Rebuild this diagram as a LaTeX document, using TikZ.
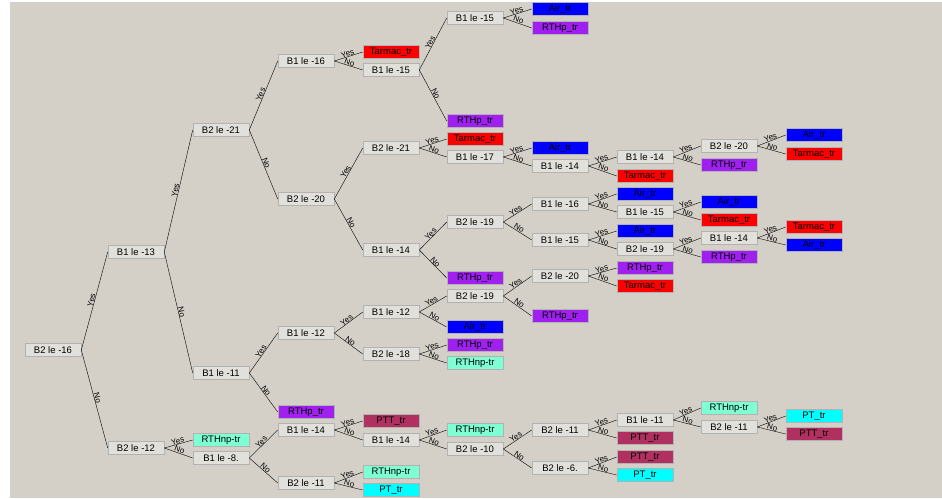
\documentclass[tikz,border=0pt]{standalone}
\usepackage{fontspec}
\setmainfont{Liberation Sans}
\definecolor{bgc}{RGB}{212,208,200}
\definecolor{testc}{RGB}{226,224,218}
\definecolor{airc}{RGB}{0,0,255}
\definecolor{tarmacc}{RGB}{255,0,0}
\definecolor{rthpc}{RGB}{160,32,240}
\definecolor{rthnpc}{RGB}{127,255,212}
\definecolor{ptc}{RGB}{0,255,255}
\definecolor{pttc}{RGB}{176,48,96}
\begin{document}
\begin{tikzpicture}[x=1pt,y=-1pt, % the decision tree
    box/.style={draw=gray!60,line width=0.6pt,minimum width=56pt,minimum height=13.5pt,inner sep=0pt,font=\fontsize{9.5}{11}\selectfont},
    test/.style={box,fill=testc},
    air/.style={box,fill=airc},
    tarmac/.style={box,fill=tarmacc},
    rthp/.style={box,fill=rthpc},
    rthnp/.style={box,fill=rthnpc},
    pt/.style={box,fill=ptc},
    ptt/.style={box,fill=pttc},
    lbl/.style={sloped,above,inner sep=0.2pt,font=\fontsize{8}{9}\selectfont}]
    \useasboundingbox (0,0) rectangle (942,498);
    \fill [white] (0,0) rectangle (942,498);
    \fill [bgc] (10,2) rectangle (942,498);
    % level 0 - 2
    \node [test] (r) at (53,350) {B2 le -16};
    \node [test] (a) at (136,252) {B1 le -13};
    \node [test] (b) at (136,448) {B2 le -12};
    \node [test] (aa) at (221,130) {B2 le -21};
    \node [test] (ab) at (221,373) {B1 le -11};
    \node [rthnp] (ba) at (221,440) {RTHnp-tr};
    \node [test] (bb) at (221,458) {B1 le -8.};
    % level 3
    \node [test] (aaa) at (306,61) {B1 le -16};
    \node [test] (aab) at (306,199) {B2 le -20};
    \node [test] (aba) at (306,333) {B1 le -12};
    \node [rthp] (abb) at (306,412) {RTHp\_tr};
    \node [test] (bba) at (306,430) {B1 le -14};
    \node [test] (bbb) at (306,483) {B2 le -11};
    % level 4
    \node [tarmac] (aaaa) at (391,52) {Tarmac\_tr};
    \node [test] (aaab) at (391,70) {B1 le -15};
    \node [test] (aaba) at (391,148) {B2 le -21};
    \node [test] (aabb) at (391,250) {B1 le -14};
    \node [test] (abaa) at (391,312) {B1 le -12};
    \node [test] (abab) at (391,354) {B2 le -18};
    \node [ptt] (bbaa) at (391,421) {PTT\_tr};
    \node [test] (bbab) at (391,440) {B1 le -14};
    \node [rthnp] (bbba) at (391,472) {RTHnp-tr};
    \node [pt] (bbbb) at (391,490) {PT\_tr};
    % level 5
    \node [test] (aaaba) at (475,18) {B1 le -15};
    \node [rthp] (aaabb) at (475,121) {RTHp\_tr};
    \node [tarmac] (aabaa) at (475,139) {Tarmac\_tr};
    \node [test] (aabab) at (475,157) {B1 le -17};
    \node [test] (aabba) at (475,222) {B2 le -19};
    \node [rthp] (aabbb) at (475,278) {RTHp\_tr};
    \node [test] (abaaa) at (475,296) {B2 le -19};
    \node [air] (abaab) at (475,327) {Air\_tr};
    \node [rthp] (ababa) at (475,345) {RTHp\_tr};
    \node [rthnp] (ababb) at (475,363) {RTHnp-tr};
    \node [rthnp] (bbaba) at (475,430) {RTHnp-tr};
    \node [test] (bbabb) at (475,449) {B2 le -10};
    % level 6
    \node [air] (aaabaa) at (560,9) {Air\_tr};
    \node [rthp] (aaabab) at (560,28) {RTHp\_tr};
    \node [air] (aababa) at (560,148) {Air\_tr};
    \node [test] (aababb) at (560,166) {B1 le -14};
    \node [test] (aabbaa) at (560,204) {B1 le -16};
    \node [test] (aabbab) at (560,240) {B1 le -15};
    \node [test] (abaaaa) at (560,276) {B2 le -20};
    \node [rthp] (abaaab) at (560,316) {RTHp\_tr};
    \node [test] (bbabba) at (560,430) {B2 le -11};
    \node [test] (bbabbb) at (560,468) {B2 le -6.};
    % level 7
    \node [test] (aababba) at (645,157) {B1 le -14};
    \node [tarmac] (aababbb) at (645,176) {Tarmac\_tr};
    \node [air] (aabbaaa) at (645,194) {Air\_tr};
    \node [test] (aabbaab) at (645,212) {B1 le -15};
    \node [air] (aabbaba) at (645,231) {Air\_tr};
    \node [test] (aabbabb) at (645,249) {B2 le -19};
    \node [rthp] (abaaaaa) at (645,268) {RTHp\_tr};
    \node [tarmac] (abaaaab) at (645,286) {Tarmac\_tr};
    \node [test] (bbabbaa) at (645,420) {B1 le -11};
    \node [ptt] (bbabbab) at (645,438) {PTT\_tr};
    \node [ptt] (bbabbba) at (645,457) {PTT\_tr};
    \node [pt] (bbabbbb) at (645,475) {PT\_tr};
    % level 8
    \node [test] (aababbaa) at (729,146) {B2 le -20};
    \node [rthp] (aababbab) at (729,165) {RTHp\_tr};
    \node [air] (aabbaaba) at (729,202) {Air\_tr};
    \node [tarmac] (aabbaabb) at (729,220) {Tarmac\_tr};
    \node [test] (aabbabba) at (729,238) {B1 le -14};
    \node [rthp] (aabbabbb) at (729,257) {RTHp\_tr};
    \node [rthnp] (bbabbaaa) at (729,408) {RTHnp-tr};
    \node [test] (bbabbaab) at (729,427) {B2 le -11};
    % level 9
    \node [air] (aababbaaa) at (814,135) {Air\_tr};
    \node [tarmac] (aababbaab) at (814,154) {Tarmac\_tr};
    \node [tarmac] (aabbabbaa) at (814,227) {Tarmac\_tr};
    \node [air] (aabbabbab) at (814,245) {Air\_tr};
    \node [pt] (bbabbaaba) at (814,416) {PT\_tr};
    \node [ptt] (bbabbaabb) at (814,434) {PTT\_tr};
    % branches
    \draw (r.east) -- node [lbl] {Yes} (a.west);
    \draw (r.east) -- node [lbl] {No} (b.west);
    \draw (a.east) -- node [lbl] {Yes} (aa.west);
    \draw (a.east) -- node [lbl] {No} (ab.west);
    \draw (b.east) -- node [lbl] {Yes} (ba.west);
    \draw (b.east) -- node [lbl] {No} (bb.west);
    \draw (aa.east) -- node [lbl] {Yes} (aaa.west);
    \draw (aa.east) -- node [lbl] {No} (aab.west);
    \draw (ab.east) -- node [lbl] {Yes} (aba.west);
    \draw (ab.east) -- node [lbl] {No} (abb.west);
    \draw (bb.east) -- node [lbl] {Yes} (bba.west);
    \draw (bb.east) -- node [lbl] {No} (bbb.west);
    \draw (aaa.east) -- node [lbl] {Yes} (aaaa.west);
    \draw (aaa.east) -- node [lbl] {No} (aaab.west);
    \draw (aab.east) -- node [lbl] {Yes} (aaba.west);
    \draw (aab.east) -- node [lbl] {No} (aabb.west);
    \draw (aba.east) -- node [lbl] {Yes} (abaa.west);
    \draw (aba.east) -- node [lbl] {No} (abab.west);
    \draw (bba.east) -- node [lbl] {Yes} (bbaa.west);
    \draw (bba.east) -- node [lbl] {No} (bbab.west);
    \draw (bbb.east) -- node [lbl] {Yes} (bbba.west);
    \draw (bbb.east) -- node [lbl] {No} (bbbb.west);
    \draw (aaab.east) -- node [lbl] {Yes} (aaaba.west);
    \draw (aaab.east) -- node [lbl] {No} (aaabb.west);
    \draw (aaba.east) -- node [lbl] {Yes} (aabaa.west);
    \draw (aaba.east) -- node [lbl] {No} (aabab.west);
    \draw (aabb.east) -- node [lbl] {Yes} (aabba.west);
    \draw (aabb.east) -- node [lbl] {No} (aabbb.west);
    \draw (abaa.east) -- node [lbl] {Yes} (abaaa.west);
    \draw (abaa.east) -- node [lbl] {No} (abaab.west);
    \draw (abab.east) -- node [lbl] {Yes} (ababa.west);
    \draw (abab.east) -- node [lbl] {No} (ababb.west);
    \draw (bbab.east) -- node [lbl] {Yes} (bbaba.west);
    \draw (bbab.east) -- node [lbl] {No} (bbabb.west);
    \draw (aaaba.east) -- node [lbl] {Yes} (aaabaa.west);
    \draw (aaaba.east) -- node [lbl] {No} (aaabab.west);
    \draw (aabab.east) -- node [lbl] {Yes} (aababa.west);
    \draw (aabab.east) -- node [lbl] {No} (aababb.west);
    \draw (aabba.east) -- node [lbl] {Yes} (aabbaa.west);
    \draw (aabba.east) -- node [lbl] {No} (aabbab.west);
    \draw (abaaa.east) -- node [lbl] {Yes} (abaaaa.west);
    \draw (abaaa.east) -- node [lbl] {No} (abaaab.west);
    \draw (bbabb.east) -- node [lbl] {Yes} (bbabba.west);
    \draw (bbabb.east) -- node [lbl] {No} (bbabbb.west);
    \draw (aababb.east) -- node [lbl] {Yes} (aababba.west);
    \draw (aababb.east) -- node [lbl] {No} (aababbb.west);
    \draw (aabbaa.east) -- node [lbl] {Yes} (aabbaaa.west);
    \draw (aabbaa.east) -- node [lbl] {No} (aabbaab.west);
    \draw (aabbab.east) -- node [lbl] {Yes} (aabbaba.west);
    \draw (aabbab.east) -- node [lbl] {No} (aabbabb.west);
    \draw (abaaaa.east) -- node [lbl] {Yes} (abaaaaa.west);
    \draw (abaaaa.east) -- node [lbl] {No} (abaaaab.west);
    \draw (bbabba.east) -- node [lbl] {Yes} (bbabbaa.west);
    \draw (bbabba.east) -- node [lbl] {No} (bbabbab.west);
    \draw (bbabbb.east) -- node [lbl] {Yes} (bbabbba.west);
    \draw (bbabbb.east) -- node [lbl] {No} (bbabbbb.west);
    \draw (aababba.east) -- node [lbl] {Yes} (aababbaa.west);
    \draw (aababba.east) -- node [lbl] {No} (aababbab.west);
    \draw (aabbaab.east) -- node [lbl] {Yes} (aabbaaba.west);
    \draw (aabbaab.east) -- node [lbl] {No} (aabbaabb.west);
    \draw (aabbabb.east) -- node [lbl] {Yes} (aabbabba.west);
    \draw (aabbabb.east) -- node [lbl] {No} (aabbabbb.west);
    \draw (bbabbaa.east) -- node [lbl] {Yes} (bbabbaaa.west);
    \draw (bbabbaa.east) -- node [lbl] {No} (bbabbaab.west);
    \draw (aababbaa.east) -- node [lbl] {Yes} (aababbaaa.west);
    \draw (aababbaa.east) -- node [lbl] {No} (aababbaab.west);
    \draw (aabbabba.east) -- node [lbl] {Yes} (aabbabbaa.west);
    \draw (aabbabba.east) -- node [lbl] {No} (aabbabbab.west);
    \draw (bbabbaab.east) -- node [lbl] {Yes} (bbabbaaba.west);
    \draw (bbabbaab.east) -- node [lbl] {No} (bbabbaabb.west);
\end{tikzpicture}
\end{document}
